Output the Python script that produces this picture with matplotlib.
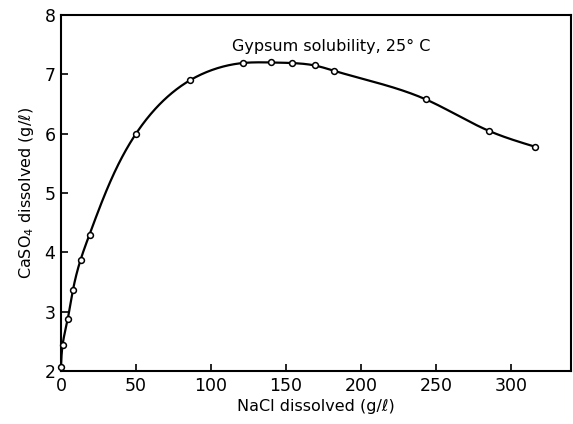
import numpy as np
import matplotlib.pyplot as plt

# NaCl dissolved (g/l) vs CaSO4 dissolved (g/l), gypsum at 25 C
nacl = [0, 1, 4.5, 8, 13, 19, 50, 86, 121, 140, 154, 169, 182, 243, 285, 316]
caso4 = [2.07, 2.43, 2.88, 3.37, 3.87, 4.30, 6.00, 6.90, 7.19, 7.20, 7.19, 7.15,
         7.06, 6.58, 6.05, 5.78]

x_ticks = [0, 50, 100, 150, 200, 250, 300]
y_ticks = [2, 3, 4, 5, 6, 7, 8]


def natural_spline(t, v, tt):
    # natural cubic spline of v(t), evaluated at tt
    n = len(t)
    h = np.diff(t)
    A = np.zeros((n, n))
    b = np.zeros(n)
    A[0, 0] = A[-1, -1] = 1.0
    for i in range(1, n - 1):
        A[i, i - 1] = h[i - 1]
        A[i, i] = 2 * (h[i - 1] + h[i])
        A[i, i + 1] = h[i]
        b[i] = 6 * ((v[i + 1] - v[i]) / h[i] - (v[i] - v[i - 1]) / h[i - 1])
    m = np.linalg.solve(A, b)
    idx = np.clip(np.searchsorted(t, tt) - 1, 0, n - 2)
    t0, t1 = t[idx], t[idx + 1]
    hh = t1 - t0
    a = (t1 - tt) / hh
    c = (tt - t0) / hh
    return (a * v[idx] + c * v[idx + 1]
            + ((a ** 3 - a) * m[idx] + (c ** 3 - c) * m[idx + 1]) * hh ** 2 / 6)


def smooth_curve(x, y, sx, sy, n=600):
    px = np.asarray(x, float) * sx
    py = np.asarray(y, float) * sy
    t = np.concatenate([[0], np.cumsum(np.hypot(np.diff(px), np.diff(py)))])
    tt = np.linspace(0, t[-1], n)
    return natural_spline(t, px, tt) / sx, natural_spline(t, py, tt) / sy


fig = plt.figure(figsize=(5.73, 4.24), dpi=100)
ax = fig.add_axes([61 / 573, 53 / 424, 510 / 573, 356 / 424])

cx, cy = smooth_curve(nacl, caso4, 1.5, 60)
ax.plot(cx, cy, color="black", linewidth=1.6, zorder=2)
ax.plot(nacl, caso4, linestyle="none", marker="o", markersize=4.2,
        markerfacecolor="white", markeredgecolor="black",
        markeredgewidth=1.1, zorder=3, clip_on=False)

ax.set_xlim(0, 340)
ax.set_ylim(2, 8)
ax.set_xticks(x_ticks)
ax.set_yticks(y_ticks)
ax.tick_params(direction="in", length=5, width=1.2, labelsize=12.5,
               top=False, right=False, pad=4)

for side in ["left", "bottom", "top", "right"]:
    ax.spines[side].set_linewidth(1.5)

ax.set_xlabel("NaCl dissolved (g/ℓ)", fontsize=11.5, labelpad=3)
ax.set_ylabel("CaSO$_4$ dissolved (g/ℓ)", fontsize=11.5, labelpad=6)

ax.text(180, 7.47, "Gypsum solubility, 25° C", fontsize=11.5,
        ha="center", va="center")

plt.savefig("out.png", dpi=100)
plt.close()
